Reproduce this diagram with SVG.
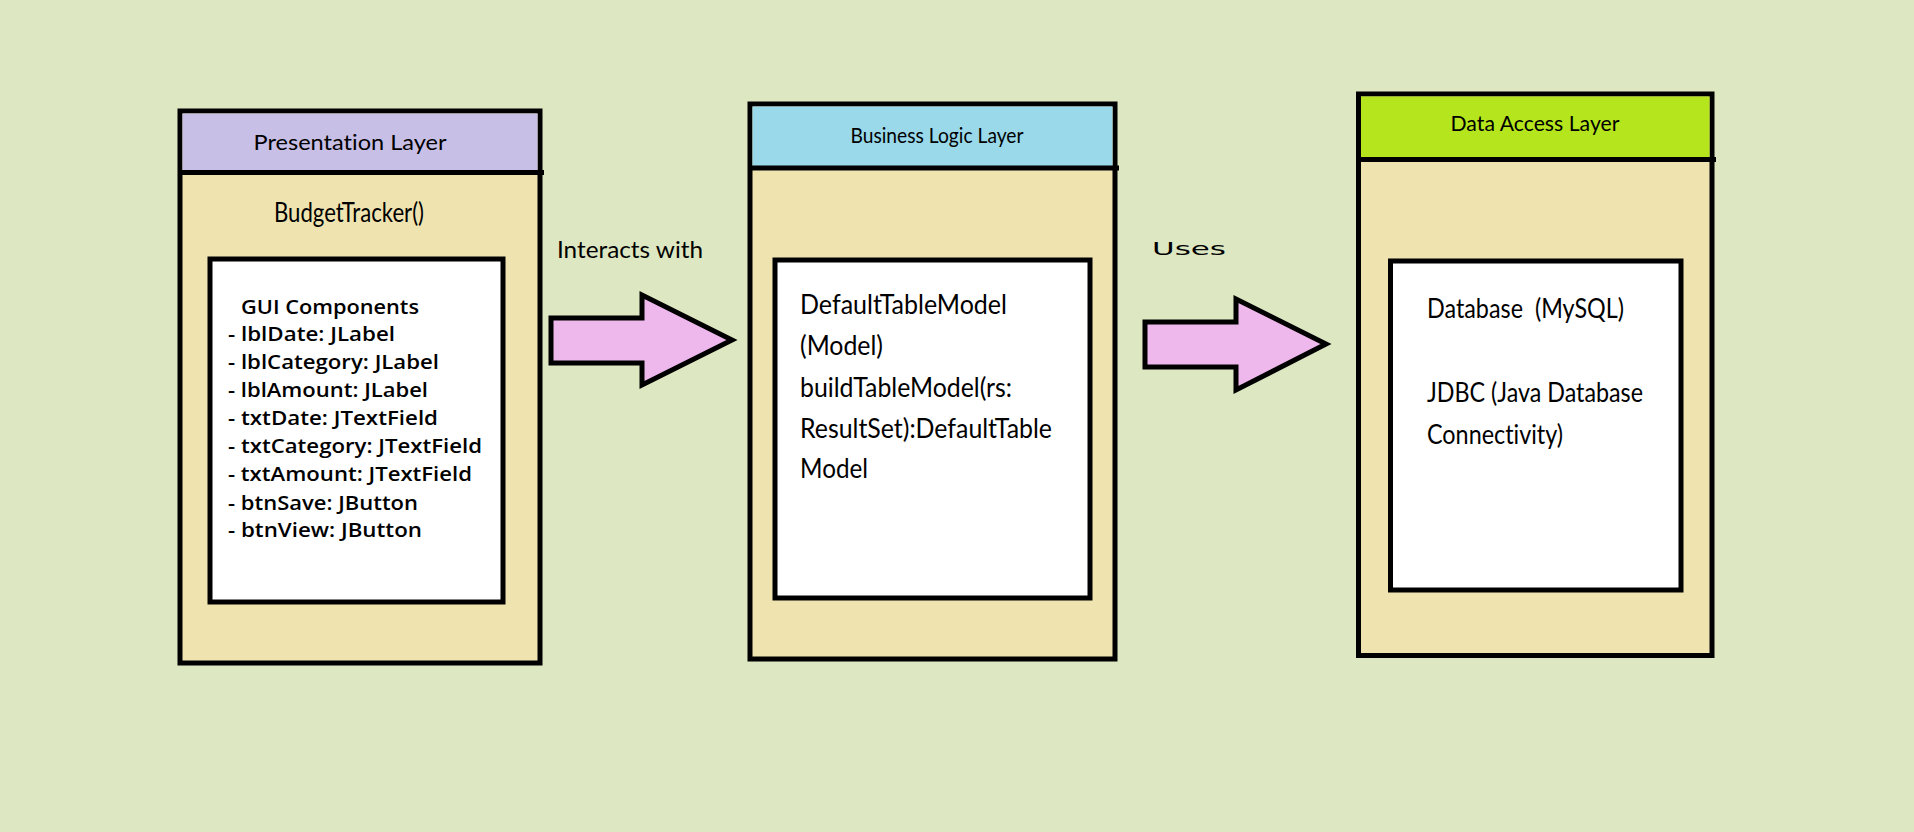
<svg xmlns="http://www.w3.org/2000/svg" width="1914" height="832" viewBox="0 0 1914 832">
<style>
text{font-variant-ligatures:none}
.frame{fill:#EFE4B0;stroke:#000;stroke-width:5}
.inner{fill:#FFFFFF;stroke:#000;stroke-width:5}
.div{stroke:#000;stroke-width:5;fill:none}
.hdr{font-family:Lato,"Open Sans",sans-serif;font-size:21px;fill:#000;text-anchor:middle}
.body{font-family:Lato,"Open Sans",sans-serif;font-size:27px;fill:#000}
.gui{font-family:"Open Sans","Noto Sans",sans-serif;font-size:19px;font-weight:600;fill:#000}
.arrow{fill:#EFB8EC;stroke:#000;stroke-width:5;stroke-linejoin:miter}
.lbl{font-family:Lato,"Open Sans",sans-serif;font-size:23px;fill:#000}
</style>
<rect x="0" y="0" width="1914" height="832" fill="#DDE7C1"/>

<g id="presentation-layer">
  <rect class="frame" x="180" y="111" width="360" height="552"/>
  <rect x="182.5" y="113.5" width="355" height="59" fill="#C8BFE7"/>
  <line class="div" x1="180" y1="172.5" x2="544" y2="172.5"/>
  <text class="hdr" x="350" y="150" font-size="22" textLength="193" lengthAdjust="spacingAndGlyphs">Presentation Layer</text>
  <text class="body" x="274" y="222" font-size="26" textLength="150" lengthAdjust="spacingAndGlyphs">BudgetTracker()</text>
  <rect class="inner" x="210" y="259" width="293" height="343"/>
  <text class="gui" x="241" y="314" textLength="178" lengthAdjust="spacingAndGlyphs">GUI Components</text>
  <text class="gui" x="228" y="341" textLength="167" lengthAdjust="spacingAndGlyphs">- lblDate: JLabel</text>
  <text class="gui" x="228" y="369" textLength="211" lengthAdjust="spacingAndGlyphs">- lblCategory: JLabel</text>
  <text class="gui" x="228" y="397" textLength="200" lengthAdjust="spacingAndGlyphs">- lblAmount: JLabel</text>
  <text class="gui" x="228" y="425" textLength="210" lengthAdjust="spacingAndGlyphs">- txtDate: JTextField</text>
  <text class="gui" x="228" y="453" textLength="254" lengthAdjust="spacingAndGlyphs">- txtCategory: JTextField</text>
  <text class="gui" x="228" y="481" textLength="244" lengthAdjust="spacingAndGlyphs">- txtAmount: JTextField</text>
  <text class="gui" x="228" y="510" textLength="190" lengthAdjust="spacingAndGlyphs">- btnSave: JButton</text>
  <text class="gui" x="228" y="537" textLength="194" lengthAdjust="spacingAndGlyphs">- btnView: JButton</text>
</g>

<g id="business-logic-layer">
  <rect class="frame" x="750" y="104" width="365" height="555"/>
  <rect x="752.5" y="106.5" width="360" height="61.5" fill="#99D9EA"/>
  <line class="div" x1="750" y1="168" x2="1119" y2="168"/>
  <text class="hdr" x="937" y="143" textLength="173" lengthAdjust="spacingAndGlyphs">Business Logic Layer</text>
  <rect class="inner" x="775" y="260" width="315" height="338"/>
  <text class="body" x="800" y="314" textLength="207" lengthAdjust="spacingAndGlyphs">DefaultTableModel</text>
  <text class="body" x="800" y="355" textLength="83" lengthAdjust="spacingAndGlyphs">(Model)</text>
  <text class="body" x="800" y="397" textLength="212" lengthAdjust="spacingAndGlyphs">buildTableModel(rs:</text>
  <text class="body" x="800" y="438" textLength="252" lengthAdjust="spacingAndGlyphs">ResultSet):DefaultTable</text>
  <text class="body" x="800" y="478" textLength="68" lengthAdjust="spacingAndGlyphs">Model</text>
</g>

<g id="data-access-layer">
  <rect class="frame" x="1358.5" y="94" width="353.5" height="561.5"/>
  <rect x="1361" y="96.5" width="348.5" height="63" fill="#B5E61D"/>
  <line class="div" x1="1358.5" y1="159.5" x2="1716" y2="159.5"/>
  <text class="hdr" x="1535" y="131" textLength="169" lengthAdjust="spacingAndGlyphs">Data Access Layer</text>
  <rect class="inner" x="1390.5" y="261" width="290.5" height="329"/>
  <text class="body" x="1427" y="318" font-size="26" textLength="197" lengthAdjust="spacingAndGlyphs" style="white-space:pre">Database  (MySQL)</text>
  <text class="body" x="1427" y="402" font-size="26" textLength="216" lengthAdjust="spacingAndGlyphs">JDBC (Java Database</text>
  <text class="body" x="1427" y="444" font-size="26" textLength="136" lengthAdjust="spacingAndGlyphs">Connectivity)</text>
</g>

<g id="connectors">
  <g id="interacts-with">
    <polygon class="arrow" points="551,318 642,318 642,295 732,340 642,385 642,363 551,363"/>
    <text class="lbl" x="557" y="258" textLength="146" lengthAdjust="spacingAndGlyphs">Interacts with</text>
  </g>
  <g id="uses">
    <polygon class="arrow" points="1145,322 1236,322 1236,299 1326,344 1236,390 1236,367 1145,367"/>
    <text x="1152" y="255" font-family="'DejaVu Sans',sans-serif" font-size="18" fill="#000" textLength="74" lengthAdjust="spacingAndGlyphs">Uses</text>
  </g>
</g>
</svg>
